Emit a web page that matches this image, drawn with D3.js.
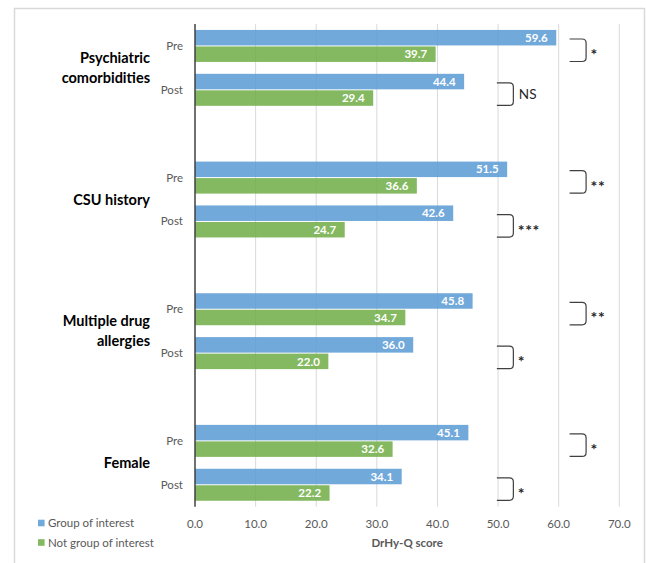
<!DOCTYPE html>
<html>
<head>
<meta charset="utf-8">
<script src="https://cdn.jsdelivr.net/npm/d3@7"></script>
<style>
  html, body { margin: 0; padding: 0; background: #fff; }
  svg { display: block; font-family: Lato, "Open Sans", sans-serif; }
</style>
</head>
<body>
<svg id="chart" width="646" height="563"></svg>
<script>
// ---- data ----
const categories = ["Psychiatric comorbidities", "CSU history", "Multiple drug allergies", "Female"];
const categoryLines = [["Psychiatric", "comorbidities"], ["CSU history"], ["Multiple drug", "allergies"], ["Female"]];
const periods = ["Pre", "Post"];
const seriesNames = ["Group of interest", "Not group of interest"];
// order: for each category, Pre then Post
const groupOfInterest    = [59.6, 44.4, 51.5, 42.6, 45.8, 36.0, 45.1, 34.1];
const notGroupOfInterest = [39.7, 29.4, 36.6, 24.7, 34.7, 22.0, 32.6, 22.2];
const significance       = ["*", "NS", "**", "***", "**", "*", "*", "*"];
const xTicks = [0, 10, 20, 30, 40, 50, 60, 70];
const xTitle = "DrHy-Q score";

// ---- layout ----
const svg = d3.select("#chart");
const plotLeft = 195, plotRight = 619.3, plotTop = 24, plotBottom = 506.7;
const colors = ["#5B9BD5", "#70AD47"];

svg.append("rect").attr("x", 14.5).attr("y", 8.5).attr("width", 630).attr("height", 570)
  .attr("fill", "none").attr("stroke", "#d9d9d9").attr("stroke-width", 1.5);

const x = d3.scaleLinear().domain([0, 70]).range([plotLeft, plotRight]);

// rows: categories x periods with a spacer row between categories
const rowKeys = [];
categories.forEach((c, ci) => {
  periods.forEach(p => rowKeys.push(c + "|" + p));
  if (ci < categories.length - 1) rowKeys.push("gap" + ci);
});
const y = d3.scaleBand().domain(rowKeys).range([plotTop, plotBottom]).padding(0);
const ys = d3.scaleBand().domain([0, 1]).range([0, y.bandwidth()]).paddingInner(0.06).paddingOuter(0.36);

const rows = [];
categories.forEach((c, ci) => periods.forEach((p, pi) => {
  const i = ci * periods.length + pi;
  rows.push({ key: c + "|" + p, cat: c, period: p, vals: [groupOfInterest[i], notGroupOfInterest[i]], sig: significance[i] });
}));

// gridlines
svg.append("g").selectAll("line").data(xTicks.filter(t => t > 0)).join("line")
  .attr("x1", d => x(d)).attr("x2", d => x(d))
  .attr("y1", plotTop).attr("y2", plotBottom)
  .attr("stroke", "#d9d9d9").attr("stroke-width", 1);

// bars
const rowG = svg.append("g").selectAll("g").data(rows).join("g")
  .attr("transform", d => `translate(0,${y(d.key)})`);
rowG.selectAll("rect").data(d => d.vals.map((v, si) => ({ v, si }))).join("rect")
  .attr("x", x(0)).attr("y", d => ys(d.si))
  .attr("width", d => x(d.v) - x(0)).attr("height", ys.bandwidth())
  .attr("fill", d => colors[d.si]).attr("fill-opacity", 0.86);
rowG.selectAll("text.val").data(d => d.vals.map((v, si) => ({ v, si }))).join("text")
  .attr("class", "val")
  .attr("x", d => x(d.v) - 8.5).attr("y", d => ys(d.si) + ys.bandwidth() / 2)
  .attr("dy", "0.36em").attr("text-anchor", "end")
  .attr("fill", "#fff").attr("font-weight", 700).attr("font-size", 11.5)
  .text(d => d3.format(".1f")(d.v));

// period labels
rowG.append("text")
  .attr("x", 183).attr("y", y.bandwidth() / 2).attr("dy", "0.35em")
  .attr("text-anchor", "end").attr("fill", "#595959").attr("font-size", 11.5)
  .text(d => d.period);

// significance brackets
const bracketStart = { Pre: 61.8, Post: 49.8 };
rowG.each(function (d) {
  const g = d3.select(this);
  const x0 = x(bracketStart[d.period]), w = 16.5, r = 4;
  const y0 = 15, y1 = 37.5;
  const p = d3.path();
  p.moveTo(x0, y0);
  p.lineTo(x0 + w - r, y0);
  p.quadraticCurveTo(x0 + w, y0, x0 + w, y0 + r);
  p.lineTo(x0 + w, y1 - r);
  p.quadraticCurveTo(x0 + w, y1, x0 + w - r, y1);
  p.lineTo(x0, y1);
  g.append("path").attr("d", p.toString()).attr("fill", "none")
    .attr("stroke", "#404040").attr("stroke-width", 1.2);
  const isNS = d.sig === "NS";
  g.append("text").attr("x", x0 + w + (isNS ? 5.5 : 4.5)).attr("y", (y0 + y1) / 2)
    .attr("dy", isNS ? "0.36em" : "0.62em")
    .attr("fill", "#262626").attr("font-size", isNS ? 13.5 : 16)
    .attr("font-weight", isNS ? 400 : 700)
    .attr("letter-spacing", isNS ? 0 : 0.5)
    .text(d.sig);
});

// y axis line
svg.append("line").attr("x1", x(0)).attr("x2", x(0)).attr("y1", plotTop).attr("y2", plotBottom)
  .attr("stroke", "#404040").attr("stroke-width", 1.5);

// category labels
categories.forEach((c, ci) => {
  const yc = (y(c + "|Pre") + y(c + "|Post") + y.bandwidth()) / 2;
  const lines = categoryLines[ci];
  const t = svg.append("text").attr("text-anchor", "end").attr("font-weight", 700)
    .attr("font-size", 14.5).attr("fill", "#000");
  lines.forEach((ln, li) => {
    t.append("tspan").attr("x", 150)
      .attr("y", yc + (li - (lines.length - 1) / 2) * 20)
      .attr("dy", "0.36em").text(ln);
  });
});

// x axis tick labels
svg.append("g").selectAll("text").data(xTicks).join("text")
  .attr("x", d => x(d)).attr("y", 523.5).attr("dy", "0.36em")
  .attr("text-anchor", "middle").attr("fill", "#595959").attr("font-size", 11.5)
  .text(d => d3.format(".1f")(d));
svg.append("text").attr("x", x(35)).attr("y", 542.5).attr("dy", "0.36em")
  .attr("text-anchor", "middle").attr("fill", "#595959").attr("font-weight", 700).attr("font-size", 11.5)
  .text(xTitle);

// legend
const leg = svg.append("g").selectAll("g").data(seriesNames).join("g")
  .attr("transform", (d, i) => `translate(38,${523 + i * 19.5})`);
leg.append("rect").attr("x", 0).attr("y", -3.3).attr("width", 6.6).attr("height", 6.6)
  .attr("fill", (d, i) => colors[i]).attr("fill-opacity", 0.86);
leg.append("text").attr("x", 10).attr("y", 0).attr("dy", "0.36em")
  .attr("fill", "#595959").attr("font-size", 11.5).text(d => d);
</script>
</body>
</html>
